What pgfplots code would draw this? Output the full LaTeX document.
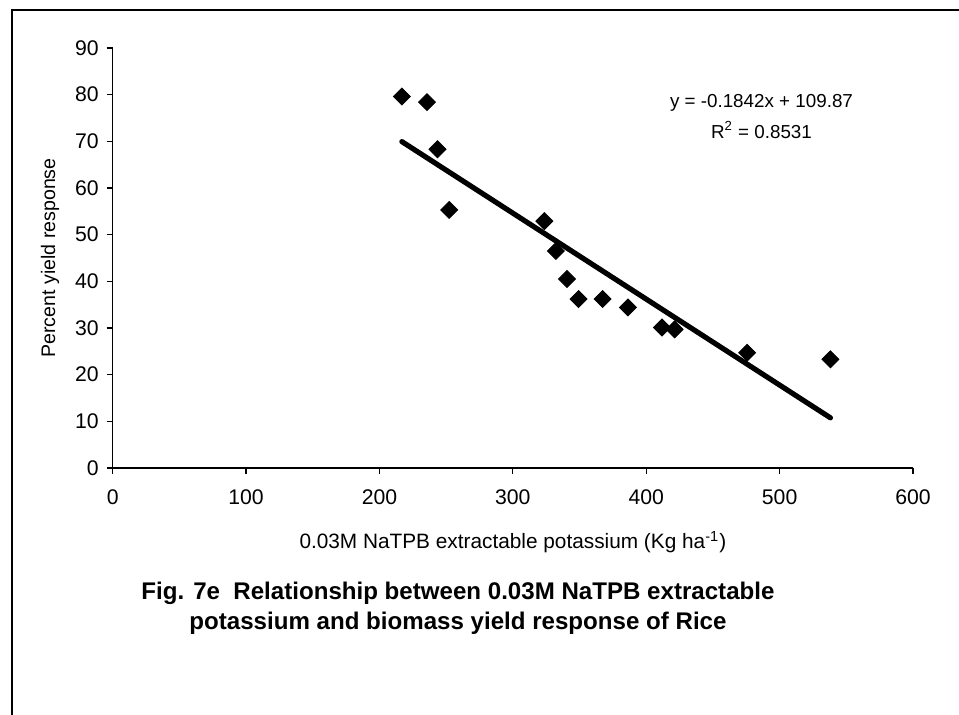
\documentclass[border=0pt]{standalone}
\usepackage{pgfplots}
\pgfplotsset{compat=1.18}
\usepackage{fontspec}
\setmainfont{Liberation Sans}
\begin{document}
\begin{tikzpicture}[x=1pt,y=1pt]
\useasboundingbox (0,0) rectangle (479.5,357.5);
\draw[line width=0.8pt] (6,0) -- (6,352.5) -- (479.5,352.5);
\begin{axis}[
  at={(56.35pt,123.5pt)}, anchor=south west,
  scale only axis, width=400.15pt, height=210pt,
  xmin=0, xmax=600, ymin=0, ymax=90,
  axis x line=bottom, axis y line=left,
  axis line style={-, line width=0.6pt},
  xtick={0,100,...,600}, ytick={0,10,...,90},
  tick align=outside, major tick length=3pt,
  tick style={line width=0.6pt, black},
  /pgf/number format/assume math mode=true,
  ticklabel style={font=\fontsize{10.6}{12}\selectfont},
  xticklabel style={yshift=-4.5pt},
  yticklabel style={xshift=-0.5pt},
  xlabel={0.03M NaTPB extractable potassium (Kg ha\textsuperscript{-1})},
  xlabel style={font=\fontsize{10.4}{12}\selectfont, at={(axis description cs:0.5,-0.176)}, anchor=center},
  ylabel={Percent yield response},
  ylabel style={font=\fontsize{9.8}{12}\selectfont, at={(axis description cs:-0.0783,0.5)}, anchor=center},
  clip=false,
]
\addplot[only marks, mark=square*, mark size=3pt, mark options={rotate=45, fill=black, draw=black}]
coordinates {
(216.8,79.6) (235.6,78.4) (243.5,68.3) (252.3,55.3) (323.6,52.9)
(332.3,46.5) (340.6,40.5) (349.3,36.2) (367.3,36.2) (386.3,34.4)
(411.8,30.1) (421.3,29.7) (475.6,24.7) (538.1,23.3)
};
\addplot[black, line width=2.6pt, line cap=round] coordinates {
(216.8,69.94) (538.1,10.75)
};
\node[font=\fontsize{9.4}{11}\selectfont, align=center] at (axis cs:486.4,78.2) {y = -0.1842x + 109.87};
\node[font=\fontsize{9.4}{11}\selectfont, align=center] at (axis cs:486.4,72.4) {R\textsuperscript{2} = 0.8531};
\end{axis}
\node[font=\fontsize{12.05}{15}\selectfont\bfseries, align=center] at (229,53.5)
{Fig. 7e\ \ Relationship between 0.03M NaTPB extractable\\potassium and biomass yield response of Rice};
\end{tikzpicture}
\end{document}
